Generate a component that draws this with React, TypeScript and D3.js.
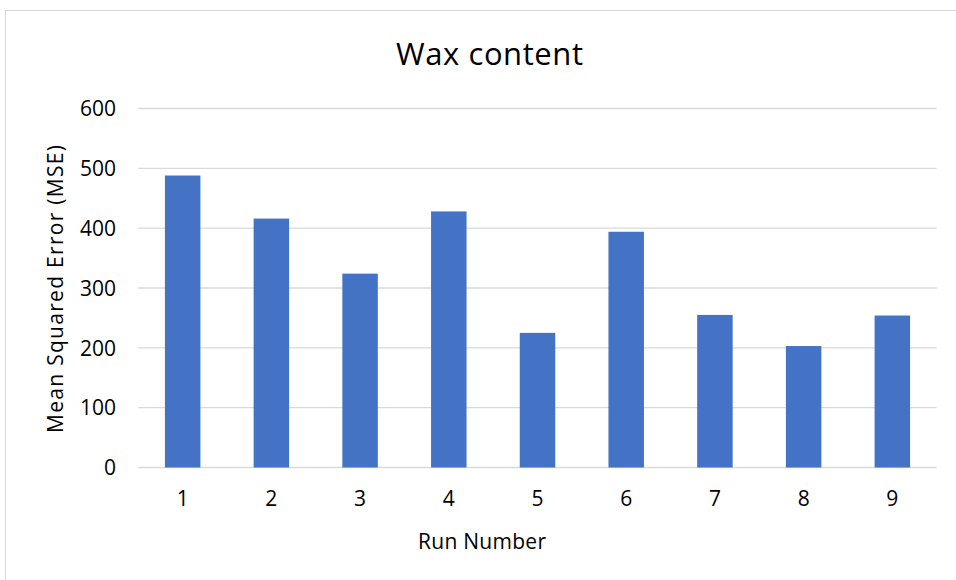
import React from "react";
import * as d3 from "d3";

const runs = ["1", "2", "3", "4", "5", "6", "7", "8", "9"];
const mse = [488, 416, 324, 428, 225, 394, 255, 203, 254];
const yTicks = [0, 100, 200, 300, 400, 500, 600];

const W = 956;
const H = 580;
const FONT = "'Open Sans', sans-serif";

export default function App() {
  const x = d3
    .scaleBand<string>()
    .domain(runs)
    .range([138.3, 936.7])
    .paddingInner(0.6)
    .paddingOuter(0.3);
  const y = d3.scaleLinear().domain([0, 600]).range([467.5, 108.5]);

  return (
    <svg
      width={W}
      height={H}
      style={{ position: "absolute", left: 0, top: 0, background: "#fff" }}
      fontFamily={FONT}
    >
      <rect x={5.5} y={10.5} width={W + 20} height={H + 20} fill="#fff" stroke="#d9d9d9" strokeWidth={1} />

      <text x={489.5} y={65} textAnchor="middle" fontSize={31} fill="#000" textLength={187} lengthAdjust="spacing">
        Wax content
      </text>

      {yTicks.map((t) => (
        <g key={t}>
          <line x1={138.3} x2={936.7} y1={y(t)} y2={y(t)} stroke="#d9d9d9" strokeWidth={1.3} />
          <text x={116} y={y(t) + 7.8} textAnchor="end" fontSize={21} fill="#000">
            {t}
          </text>
        </g>
      ))}

      {runs.map((r, i) => (
        <rect
          key={r}
          x={x(r)}
          y={y(mse[i])}
          width={x.bandwidth()}
          height={y(0) - y(mse[i])}
          fill="#4472C4"
        />
      ))}

      {runs.map((r) => (
        <text key={r} x={(x(r) ?? 0) + x.bandwidth() / 2} y={506} textAnchor="middle" fontSize={21} fill="#000">
          {r}
        </text>
      ))}

      <text x={482} y={548.5} textAnchor="middle" fontSize={21} fill="#000" textLength={128} lengthAdjust="spacing">
        Run Number
      </text>

      <text
        transform={`translate(63.3, 289) rotate(-90)`}
        textAnchor="middle"
        fontSize={21}
        fill="#000"
        textLength={288}
        lengthAdjust="spacing"
      >
        Mean Squared Error (MSE)
      </text>
    </svg>
  );
}
